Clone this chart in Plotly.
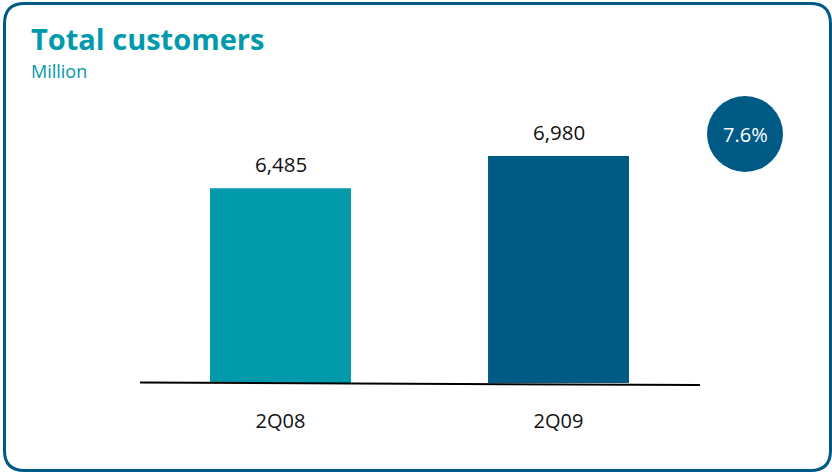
import plotly.graph_objects as go

# Data
quarters = ["2Q08", "2Q09"]
customers = [6485, 6980]
bar_colors = ["#009AAC", "#005A86"]

W, H = 832, 472
TEAL = "#009AAC"
NAVY = "#005A86"
FONT = "Open Sans, Noto Sans, sans-serif"


def px(x):
    return x / W


def py(y):
    return 1 - y / H


growth = (customers[1] / customers[0] - 1) * 100

fig = go.Figure()
fig.add_trace(go.Bar(
    x=quarters,
    y=customers,
    marker=dict(color=bar_colors, line=dict(width=0)),
    hoverinfo="x+y",
))

# value labels above the bars
annotations = []
for q, v in zip(quarters, customers):
    annotations.append(dict(
        x=q, y=v, xref="x", yref="y", text=f"{v:,}", showarrow=False,
        yanchor="bottom", yshift=8,
        font=dict(family=FONT, size=20.5, color="#111111"),
    ))

# title and unit
annotations.append(dict(
    x=px(29), y=py(17), xref="paper", yref="paper", xanchor="left", yanchor="top",
    text="<b>Total customers</b>", showarrow=False,
    font=dict(family=FONT, size=29, color=TEAL),
))
annotations.append(dict(
    x=px(29), y=py(57), xref="paper", yref="paper", xanchor="left", yanchor="top",
    text="Million", showarrow=False,
    font=dict(family=FONT, size=18, color=TEAL),
))

# growth bubble text
annotations.append(dict(
    x=px(745), y=py(134), xref="paper", yref="paper", xanchor="center", yanchor="middle",
    text=f"{growth:.1f}%", showarrow=False,
    font=dict(family=FONT, size=20, color="white"),
))

# rounded frame
x0, x1, y0, y1 = 4.5, 830.5, 3.5, 470.5
r = 20
frame = (
    f"M {px(x0 + r)},{py(y0)} L {px(x1 - r)},{py(y0)} "
    f"Q {px(x1)},{py(y0)} {px(x1)},{py(y0 + r)} "
    f"L {px(x1)},{py(y1 - r)} Q {px(x1)},{py(y1)} {px(x1 - r)},{py(y1)} "
    f"L {px(x0 + r)},{py(y1)} Q {px(x0)},{py(y1)} {px(x0)},{py(y1 - r)} "
    f"L {px(x0)},{py(y0 + r)} Q {px(x0)},{py(y0)} {px(x0 + r)},{py(y0)} Z"
)

shapes = [
    dict(type="path", path=frame, xref="paper", yref="paper",
         line=dict(color=NAVY, width=3), fillcolor="rgba(0,0,0,0)", layer="above"),
    dict(type="line", xref="paper", yref="paper",
         x0=px(140), y0=py(382.5), x1=px(700), y1=py(385),
         line=dict(color="#000000", width=2), layer="above"),
    dict(type="circle", xref="paper", yref="paper",
         x0=px(707), x1=px(783), y0=py(172), y1=py(96),
         fillcolor=NAVY, line=dict(width=0), layer="below"),
]

fig.update_layout(
    width=W, height=H,
    margin=dict(l=0, r=0, t=0, b=0),
    paper_bgcolor="white", plot_bgcolor="white",
    showlegend=False,
    bargap=0.493,
    annotations=annotations,
    shapes=shapes,
    xaxis=dict(
        domain=[px(141.5), px(697.5)],
        range=[-0.5, 1.5],
        showgrid=False, zeroline=False, showline=False, ticks="",
        tickfont=dict(family=FONT, size=20, color="#111111"),
        ticklabelstandoff=24,
    ),
    yaxis=dict(
        domain=[py(383), py(100)],
        range=[3500, 7837],
        visible=False,
    ),
)

fig.write_html("out.html")
